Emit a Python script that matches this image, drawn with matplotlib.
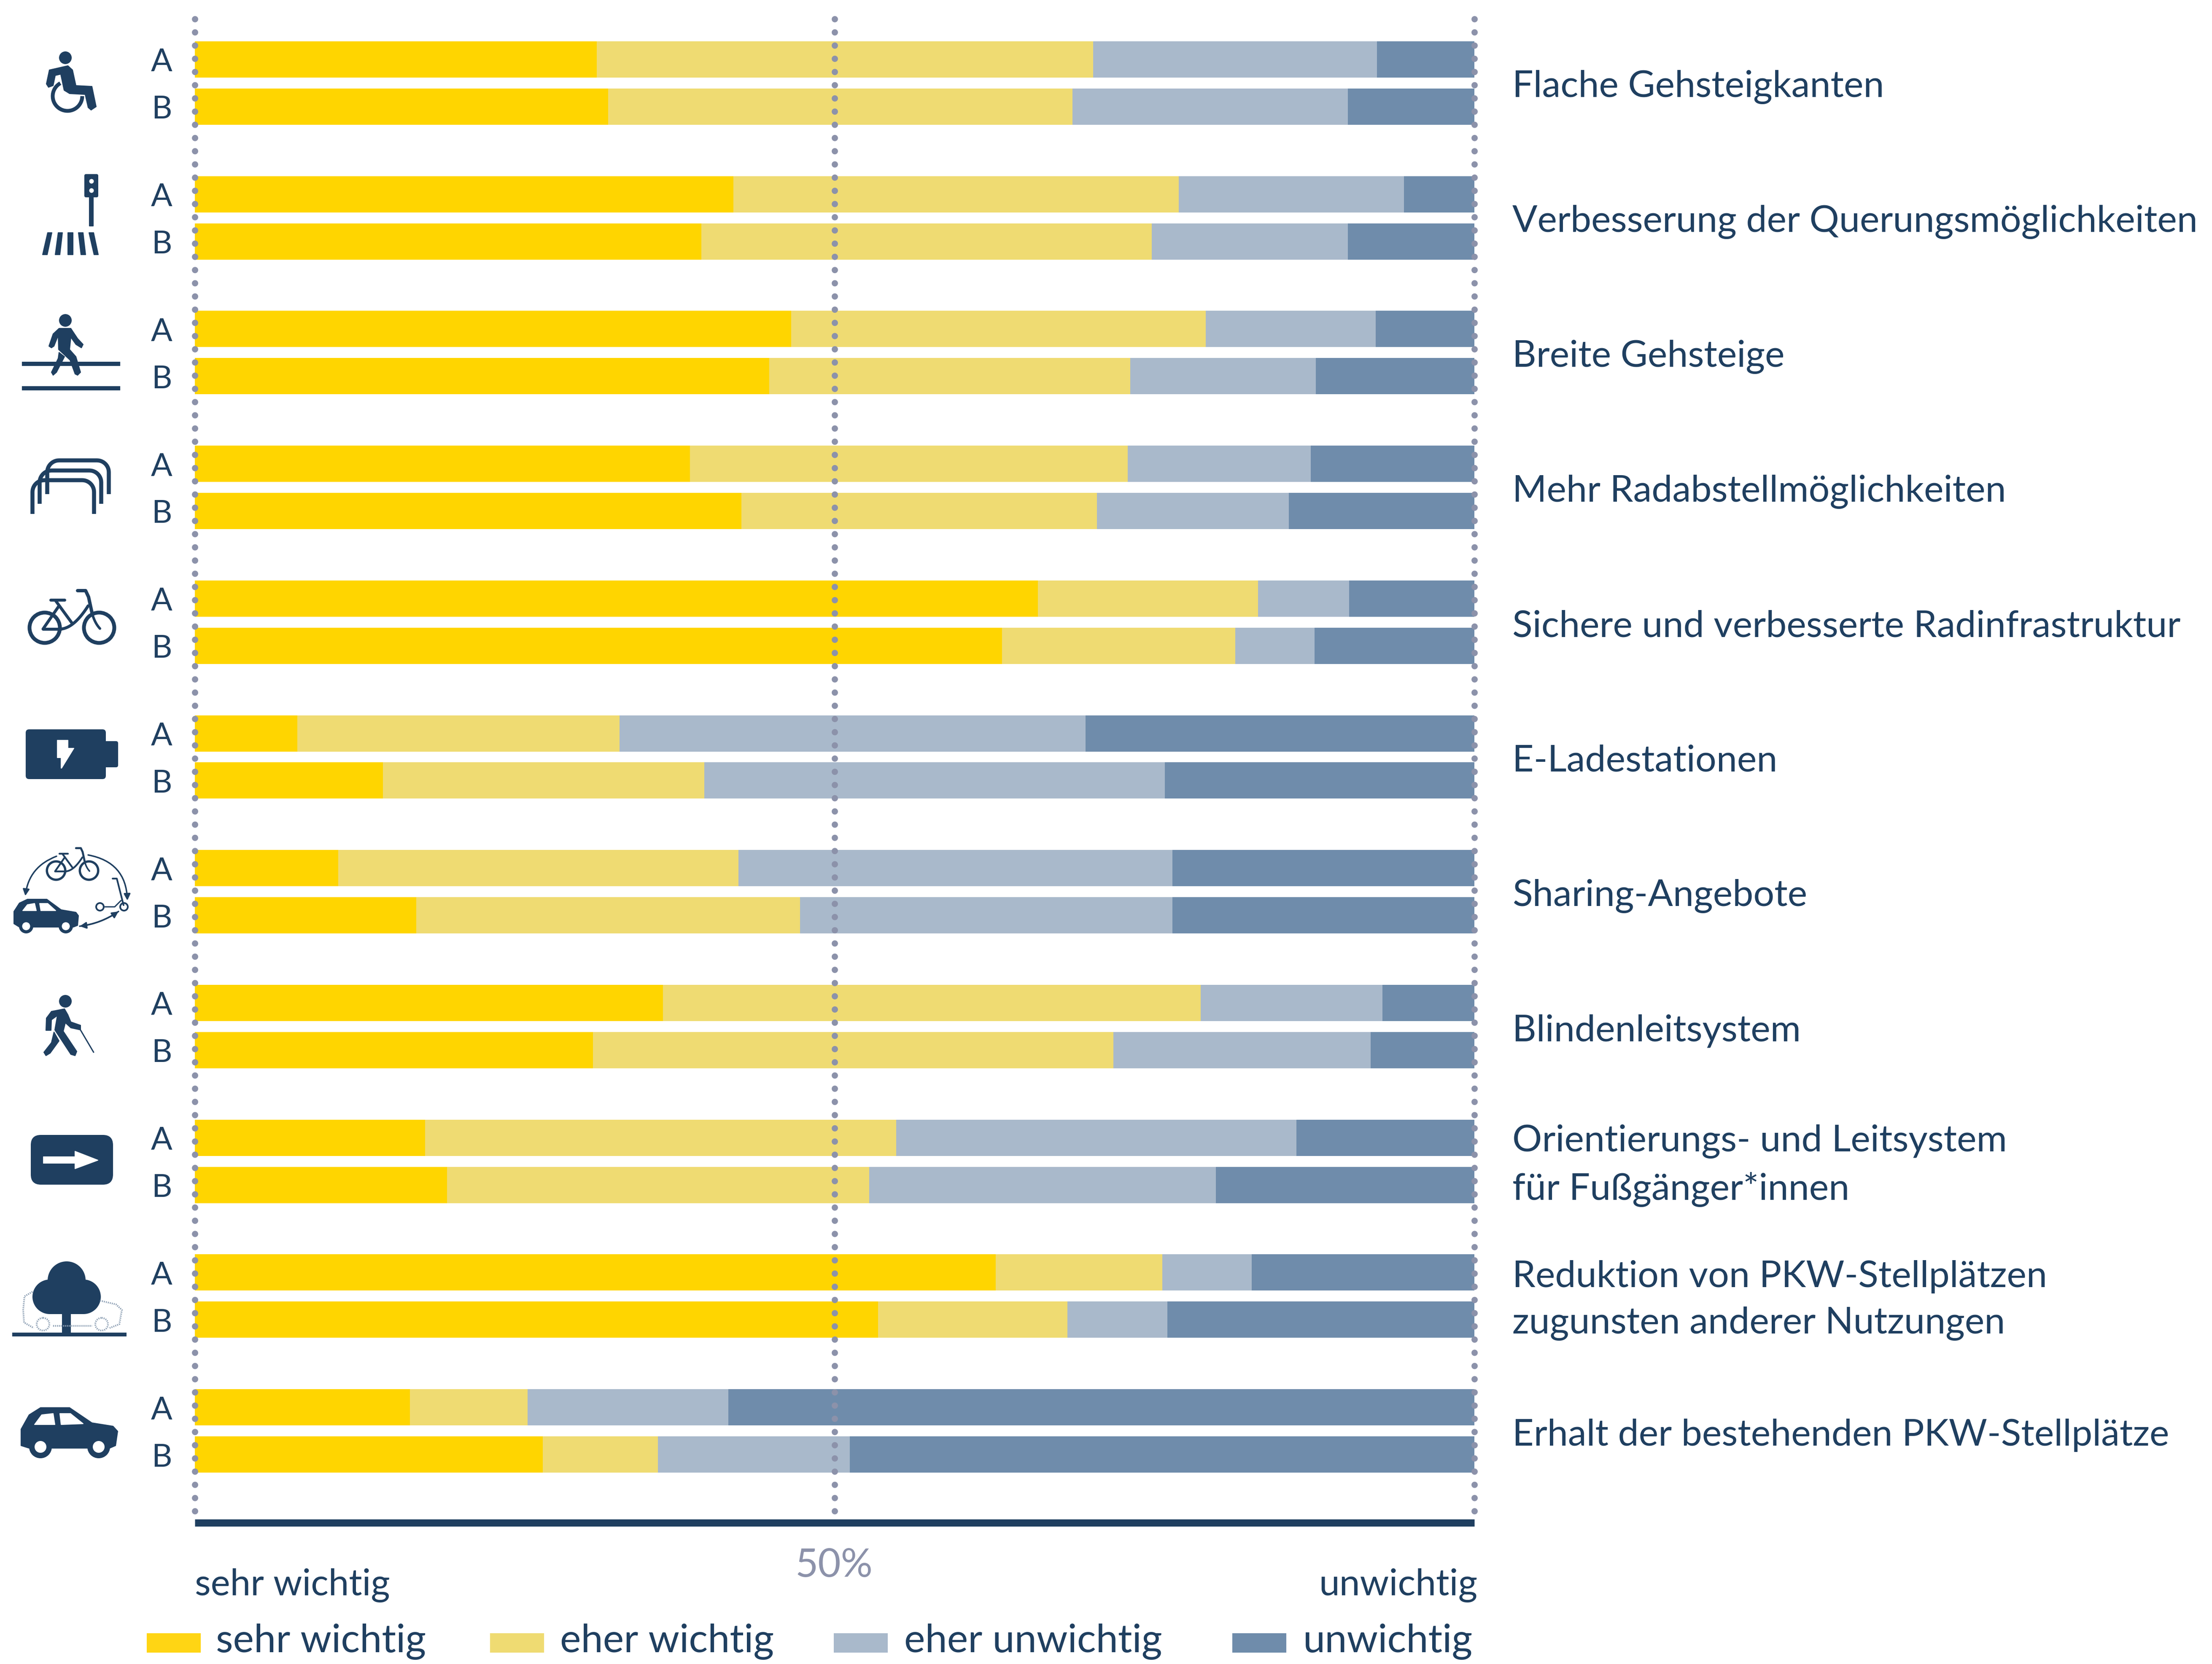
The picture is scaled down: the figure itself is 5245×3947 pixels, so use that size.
# -*- coding: utf-8 -*-
import numpy as np
import matplotlib
matplotlib.use('Agg')
import matplotlib.pyplot as plt
from matplotlib.patches import Polygon, Circle, Rectangle, FancyBboxPatch, FancyArrowPatch

plt.rcParams['font.family'] = ['Lato', 'DejaVu Sans']

##############################################################################
# Data, percent per answer. A and B alternate.
measures = ['Flache Gehsteigkanten',
            'Verbesserung der Querungsmöglichkeiten',
            'Breite Gehsteige',
            'Mehr Radabstellmöglichkeiten',
            'Sichere und verbesserte Radinfrastruktur',
            'E-Ladestationen',
            'Sharing-Angebote',
            'Blindenleitsystem',
            'Orientierungs- und Leitsystem\nfür Fußgänger*innen',
            'Reduktion von PKW-Stellplätzen\nzugunsten anderer Nutzungen',
            'Erhalt der bestehenden PKW-Stellplätze']
groups = ['A', 'B']
answers = ['sehr wichtig', 'eher wichtig', 'eher unwichtig', 'unwichtig']

sehr_wichtig = [31.4, 32.3, 42.1, 39.6, 46.6, 44.9, 38.7, 42.7, 65.9, 63.1, 8.0,
                14.7, 11.2, 17.3, 36.6, 31.1, 18.0, 19.7, 62.6, 53.4, 16.8, 27.2]
eher_wichtig = [38.8, 36.3, 34.8, 35.2, 32.4, 28.2, 34.2, 27.8, 17.2, 18.2, 25.2,
                25.1, 31.3, 30.0, 42.0, 40.7, 36.8, 33.0, 13.0, 14.8, 9.2, 9.0]
eher_unwichtig = [22.2, 21.5, 17.6, 15.3, 13.3, 14.5, 14.3, 15.0, 7.1, 6.2, 36.4,
                  36.0, 33.9, 29.1, 14.2, 20.1, 31.3, 27.1, 7.0, 7.8, 15.7, 15.0]
unwichtig = [7.6, 9.9, 5.5, 9.9, 7.7, 12.4, 12.8, 14.5, 9.8, 12.5, 30.4,
             24.2, 23.6, 23.6, 7.2, 8.1, 13.9, 20.2, 17.4, 24.0, 58.3, 48.8]

colors = ['#FFD500', '#EFDB72', '#A9B9CB', '#6F8CAB']
legend_colors = ['#FFD514', '#EFDB72', '#A9B9CB', '#6F8CAB']
navy = '#1F3F60'
grey = '#8C92AA'
W, H = 5245, 3947
DPI = 300


def px(v):
    # pixels to points
    return v * 72.0 / DPI


fig = plt.figure(figsize=(W / DPI, H / DPI), dpi=DPI, facecolor='white')

##############################################################################
# Bars
ax = fig.add_axes([462.0 / W, 1 - 3611.5 / H, 3034.0 / W, (3611.5 - 45) / H])
series = [sehr_wichtig, eher_wichtig, eher_unwichtig, unwichtig]
ypos = []
for i in range(len(measures)):
    ypos += [i - 0.175, i + 0.175]
ypos = np.array(ypos)
left = np.zeros(len(ypos))
for vals, col in zip(series, colors):
    ax.barh(ypos, vals, height=0.269, left=left, color=col, linewidth=0, zorder=2)
    left = left + np.array(vals)

ax.set_xlim(0, 100)
ax.set_ylim(10.68, -0.475)
ax.set_xticks([])
ax.set_yticks([])
for s in ['top', 'left', 'right']:
    ax.spines[s].set_visible(False)
ax.spines['bottom'].set_linewidth(px(17))
ax.spines['bottom'].set_color(navy)
ax.spines['bottom'].set_capstyle('butt')

for x in [0, 50, 100]:
    ax.plot([x, x], [-0.475, 10.68], color=grey, lw=px(15), clip_on=False, zorder=5,
            dashes=(0.001, 2.087), dash_capstyle='round')

for y, lab in zip(ypos, groups * len(measures)):
    ax.annotate(lab, (0, y), xytext=(383, px(-7)), xycoords=('axes fraction', 'data'),
                textcoords=('figure pixels', 'offset points'), ha='center', va='center',
                fontsize=18, color=navy)

for i, m in enumerate(measures):
    ax.annotate(m, (1, i), xytext=(3586, px(-10)), xycoords=('axes fraction', 'data'),
                textcoords=('figure pixels', 'offset points'), ha='left', va='center',
                fontsize=21.1, color=navy, linespacing=1.48)

##############################################################################
# Overlay in pixels for icons, captions and legend
ov = fig.add_axes([0, 0, 1, 1], zorder=10)
ov.set_xlim(0, W)
ov.set_ylim(H, 0)
ov.axis('off')
ov.patch.set_alpha(0)


def poly(pts, col=navy):
    ov.add_patch(Polygon(pts, closed=True, fc=col, ec=col, lw=px(2), joinstyle='round'))


def circ(x, y, r, col=navy):
    ov.add_patch(Circle((x, y), r, fc=col, ec='none'))


def ring(x, y, r, lw, col=navy, **kw):
    ov.add_patch(Circle((x, y), r, fc='none', ec=col, lw=px(lw), **kw))


def line(pts, lw, col=navy, cap='round', **kw):
    pts = np.array(pts, dtype=float)
    ov.plot(pts[:, 0], pts[:, 1], color=col, lw=px(lw), solid_capstyle=cap,
            solid_joinstyle='round', **kw)


def rbox(x0, y0, x1, y1, r, col=navy):
    ov.add_patch(FancyBboxPatch((x0 + r, y0 + r), x1 - x0 - 2 * r, y1 - y0 - 2 * r,
                                boxstyle='round,pad=%f,rounding_size=%f' % (r, r),
                                fc=col, ec='none'))


def curve(p0, p1, p2, lw, col=navy):
    t = np.linspace(0, 1, 30)[:, None]
    p0, p1, p2 = np.array(p0), np.array(p1), np.array(p2)
    line((1 - t) ** 2 * p0 + 2 * t * (1 - t) * p1 + t ** 2 * p2, lw, col)


def arc(cx, cy, r, a0, a1, lw):
    a = np.radians(np.linspace(a0, a1, 80))
    line(np.c_[cx + r * np.cos(a), cy + r * np.sin(a)], lw, cap='butt')


def bike(x, y, s):
    # x, y is the centre of the rear wheel
    def p(u, v):
        return (x + u * s, y + v * s)
    ring(x, y, 36 * s, 9 * s)
    ring(x + 129 * s, y, 36 * s, 9 * s)
    line([p(14, -66), p(47, -66)], 7 * s)
    line([p(26, -64), p(64, -12)], 7 * s)
    line([p(-4, 3), p(34, -52)], 7 * s)
    line([p(-4, 3), p(39, 3)], 7 * s)
    curve(p(39, 3), p(70, 0), p(103, -52), 7 * s)
    line([p(78, -88), p(97, -88), p(104, -73), p(112, -36)], 8 * s)
    curve(p(112, -36), p(118, -12), p(131, 2), 6 * s)


def rack(xl, xr, top, bot):
    r = 28
    a = np.radians(np.linspace(180, 270, 12))
    b = np.radians(np.linspace(270, 360, 12))
    pts = [(xl, bot)]
    pts += list(zip(xl + r + r * np.cos(a), top + r + r * np.sin(a)))
    pts += list(zip(xr - r + r * np.cos(b), top + r + r * np.sin(b)))
    pts += [(xr, bot)]
    line(pts, 9.5, cap='butt')


# wheelchair
circ(155, 137, 15)
poly([(110, 199), (117, 166), (161, 156), (172, 166), (180, 203), (218, 205), (228, 253),
      (216, 261), (209, 255), (202, 224), (165, 222), (152, 214), (144, 176), (131, 179),
      (126, 203), (115, 207)])
arc(160, 228, 35, 241, 0, 9)

# crossing with signal
rbox(200, 413, 233, 468, 4)
poly([(212, 468), (221, 468), (221, 536), (212, 536)])
circ(217, 430, 5.5, 'white')
circ(217, 452, 5.5, 'white')
for top, bot in [((113, 123), (101, 112)), ((138, 148), (131, 142)), ((161, 173), (161, 173)),
                 ((186, 197), (192, 203)), ((211, 222), (223, 233))]:
    poly([(top[0], 552), (top[1], 552), (bot[1], 604), (bot[0], 604)])

# pedestrian on pavement
ov.add_patch(Rectangle((52, 858), 233, 10, fc=navy, ec='none'))
ov.add_patch(Rectangle((52, 916), 233, 10, fc=navy, ec='none'))
circ(155, 760, 15)
poly([(116, 821), (126, 792), (140, 779), (168, 779), (184, 803), (197, 817), (193, 825),
      (180, 817), (168, 800), (165, 829), (180, 846), (191, 883), (184, 890), (178, 887),
      (166, 854), (139, 829), (138, 796), (128, 821), (122, 825)])
poly([(140, 836), (153, 846), (134, 883), (126, 890), (122, 883), (138, 850)])

# bicycle racks
rack(77, 223, 1139, 1219)
rack(94, 240, 1116, 1195)
rack(112, 258, 1092, 1172)

# bicycle
bike(106, 1489, 1.0)

# battery
rbox(61, 1730, 251, 1848, 8)
rbox(240, 1758, 280, 1820, 5)
poly([(136, 1756), (161, 1756), (161, 1775), (175, 1775), (146, 1822), (145, 1822),
      (145, 1797), (136, 1797)], 'white')

# sharing
bike(133, 2065, 0.605)
poly([(33, 2191), (33, 2162), (46, 2142), (65, 2133), (111, 2133), (145, 2158), (180, 2164),
      (186, 2172), (184, 2195), (174, 2199), (46, 2199)])
for wx in [62, 156]:
    circ(wx, 2197, 17)
    circ(wx, 2197, 9.5, 'white')
poly([(54, 2160), (65, 2146), (82, 2143), (86, 2160)], 'white')
poly([(94, 2143), (113, 2143), (132, 2160), (97, 2160)], 'white')
ring(237, 2151, 9, 4)
ring(294, 2151, 9, 4)
line([(249, 2151), (272, 2151), (287, 2136)], 3)
line([(267, 2084), (277, 2084), (293, 2147)], 4)
for a, b, rad in [((134, 2031), (60, 2125), 0.3), ((209, 2028), (302, 2136), -0.4),
                  ((189, 2197), (281, 2162), 0.12)]:
    ov.add_patch(FancyArrowPatch(a, b, connectionstyle='arc3,rad=%f' % rad,
                                 arrowstyle='-|>,head_length=3,head_width=1.5',
                                 lw=px(3.5), color=navy, shrinkA=0, shrinkB=0))
ov.add_patch(FancyArrowPatch((281, 2162), (189, 2197), connectionstyle='arc3,rad=-0.12',
                             arrowstyle='-|>,head_length=3,head_width=1.5',
                             lw=px(3.5), color=navy, shrinkA=0, shrinkB=0))

# walking with cane
circ(155, 2375, 15)
poly([(109, 2444), (110, 2415), (122, 2399), (153, 2393), (161, 2407), (168, 2424), (191, 2432),
      (191, 2443), (168, 2438), (155, 2426), (150, 2446), (182, 2494), (178, 2504), (168, 2501),
      (130, 2443), (136, 2409), (122, 2419), (121, 2444)])
poly([(128, 2448), (140, 2469), (119, 2498), (109, 2504), (104, 2496), (122, 2473)])
line([(189, 2440), (222, 2496)], 3)

# sign with arrow
rbox(73, 2692, 268, 2810, 24)
poly([(103, 2744), (178, 2744), (178, 2731), (232, 2752), (178, 2772), (178, 2759), (103, 2759)],
     'white')

# tree in front of a faded car
dash = dict(ls=(0, (0.6, 0.6)))
line([(77, 3064), (58, 3075), (55, 3107), (57, 3137), (80, 3150)], 4, '#8FA1B5', **dash)
line([(237, 3085), (275, 3094), (289, 3107), (283, 3141), (260, 3150)], 4, '#8FA1B5', **dash)
line([(126, 3145), (218, 3145)], 4, '#8FA1B5', **dash)
ring(102, 3141, 15, 4, '#8FA1B5', ls=(0, (0.6, 0.6)))
ring(241, 3141, 15, 4, '#8FA1B5', ls=(0, (0.6, 0.6)))
circ(158, 3037, 45)
circ(118, 3076, 41)
circ(198, 3076, 41)
ov.add_patch(Rectangle((118, 3040), 80, 77, fc=navy, ec='none'))
ov.add_patch(Rectangle((147, 3110), 21, 55, fc=navy, ec='none'))
ov.add_patch(Rectangle((29, 3161), 271, 9, fc=navy, ec='none'))

# car
poly([(50, 3429), (50, 3390), (69, 3356), (96, 3339), (165, 3339), (218, 3375), (268, 3383),
      (279, 3395), (274, 3429), (260, 3435), (69, 3435)])
for wx in [96, 234]:
    circ(wx, 3432, 27)
    circ(wx, 3432, 14, 'white')
poly([(82, 3379), (99, 3356), (126, 3353), (130, 3379)], 'white')
poly([(142, 3353), (167, 3353), (197, 3377), (145, 3379)], 'white')

##############################################################################
# Captions and legend
ov.text(462, 3784, 'sehr wichtig', fontsize=20.9, color=navy, ha='left', va='baseline')
ov.text(3503, 3784, 'unwichtig', fontsize=21, color=navy, ha='right', va='baseline')
ov.text(1978, 3740, '50%', fontsize=22.5, color=grey, ha='center', va='baseline')

sw_x = [348, 1162, 1977, 2922]
txt_x = [512, 1328, 2144, 3090]
for sx, tx, col, lab in zip(sw_x, txt_x, legend_colors, answers):
    ov.add_patch(Rectangle((sx, 3874), 128, 46, fc=col, ec='none'))
    ov.text(tx, 3919, lab, fontsize=22.5, color=navy, ha='left', va='baseline')

plt.savefig('out.png', dpi=DPI, facecolor='white')
